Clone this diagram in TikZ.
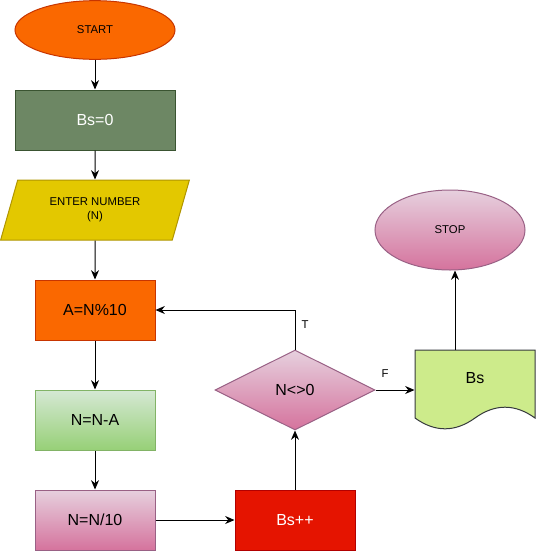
\documentclass[tikz,border=0pt]{standalone}
\usepackage{fontspec}
\setmainfont{Liberation Sans}
\usepackage{xcolor}
\usetikzlibrary{shapes, arrows, arrows.meta, positioning}

\definecolor{orangeF}{HTML}{FA6800}
\definecolor{orangeD}{HTML}{C73500}
\definecolor{olivF}{HTML}{6D8764}
\definecolor{olivD}{HTML}{3A5431}
\definecolor{jauneF}{HTML}{E3C800}
\definecolor{jauneD}{HTML}{B09500}
\definecolor{vertH}{HTML}{D5E8D4}
\definecolor{vertB}{HTML}{97D077}
\definecolor{vertD}{HTML}{82B366}
\definecolor{roseH}{HTML}{E6D0DE}
\definecolor{roseB}{HTML}{D5739D}
\definecolor{roseD}{HTML}{996185}
\definecolor{rougeF}{HTML}{E51400}
\definecolor{rougeD}{HTML}{B20000}
\definecolor{docF}{HTML}{CDEB8B}
\definecolor{docD}{HTML}{36393D}

\tikzset{
    bloc/.style={rectangle, minimum width=90pt, minimum height=45pt, line width=0.75pt,
        font=\fontsize{12}{14}\selectfont},
    petit/.style={font=\fontsize{8.5}{10.5}\selectfont},
    rose/.style={draw=roseD, top color=roseH, bottom color=roseB},
    fleche/.style={-{Stealth[length=7pt,width=6pt]}, line width=0.75pt}
}

\begin{document}
\begin{tikzpicture}[x=0.75pt, y=-0.75pt]
    \useasboundingbox (0,0) rectangle (536,551);

    % Colonne de gauche
    \node[ellipse, draw=orangeD, fill=orangeF, line width=0.75pt, petit,
        minimum width=120pt, minimum height=44pt] (debut) at (95,30) {START};
    \node[bloc, draw=olivD, fill=olivF, text=white, minimum width=120pt] (init) at (95,120) {Bs=0};
    \node[trapezium, trapezium left angle=71.57, trapezium right angle=108.43, trapezium stretches=true,
        draw=jauneD, fill=jauneF, line width=0.75pt, petit, align=center,
        minimum width=142.5pt, minimum height=45pt] (saisie) at (95,210) {ENTER NUMBER\\(N)};
    \node[bloc, draw=orangeD, fill=orangeF] (reste) at (95,310) {A=N\%10};
    \node[bloc, draw=vertD, top color=vertH, bottom color=vertB] (moins) at (95,420) {N=N-A};
    \node[bloc, rose] (divise) at (95,520) {N=N/10};

    % Boucle
    \node[bloc, draw=rougeD, fill=rougeF, text=white] (compte) at (295,520) {Bs++};
    \node[diamond, aspect=2, rose, line width=0.75pt, inner sep=0pt,
        minimum width=120pt, minimum height=60pt, font=\fontsize{12}{14}\selectfont] (test) at (295,390) {N<>0};

    % Document et fin
    \draw[draw=docD, fill=docF, line width=0.75pt] (415,350) -- (535,350) -- (535,418)
        .. controls (515,403.6) and (495,403.6) .. (475,418)
        .. controls (455,432.4) and (435,432.4) .. (415,418) -- cycle;
    \node[bloc, minimum height=51pt] (doc) at (475,384) {};
    \node[font=\fontsize{12}{14}\selectfont] at (475,378) {Bs};
    \coordinate (sortie) at (455,350);
    \node[ellipse, rose, line width=0.75pt, petit,
        minimum width=112.5pt, minimum height=60pt] (fin) at (450,230) {STOP};

    % Fleches
    \draw[fleche] (debut) -- (init);
    \draw[fleche] (init) -- (saisie);
    \draw[fleche] (saisie) -- (reste);
    \draw[fleche] (reste) -- (moins);
    \draw[fleche] (moins) -- (divise);
    \draw[fleche] (divise) -- (compte);
    \draw[fleche] (compte) -- (test);
    \draw[fleche] (test.north) |- (reste.east);
    \draw[fleche] (test.east) -- (test.east -| doc.west);
    \draw[fleche] (sortie) -- (sortie |- fin.south);
    \node[petit] (vrai) at (305,325) {T};
    \node[petit] (faux) at (385,374) {F};
\end{tikzpicture}
\end{document}
